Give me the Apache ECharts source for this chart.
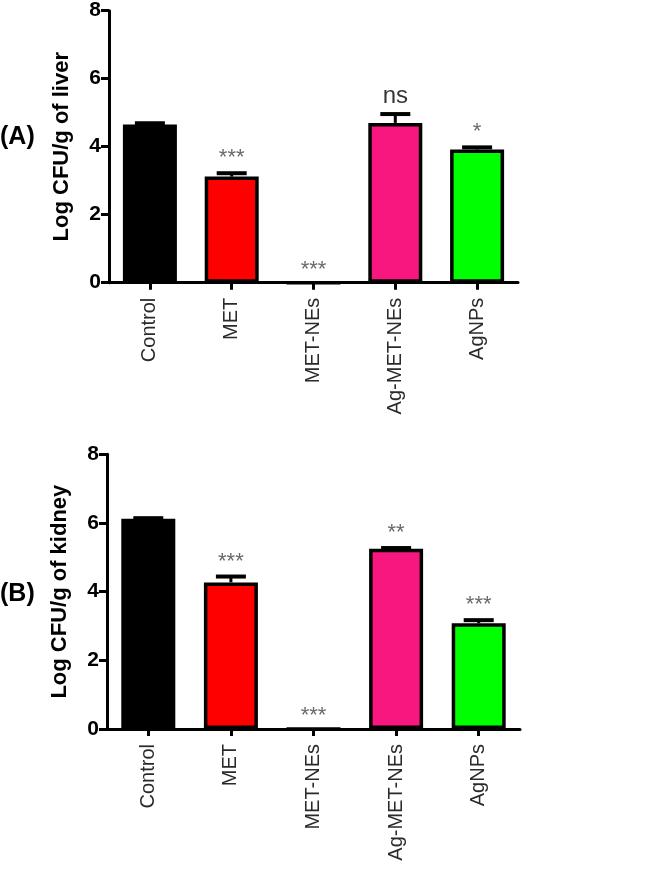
<!DOCTYPE html>
<html>
<head>
<meta charset="utf-8">
<script src="https://cdn.jsdelivr.net/npm/echarts@6/dist/echarts.min.js"></script>
<style>
html,body{margin:0;padding:0;background:#fff;}
#chart{width:645px;height:870px;}
</style>
</head>
<body>
<div id="chart"></div>
<script>
// ---- data ----
const categories = ['Control', 'MET', 'MET-NEs', 'Ag-MET-NEs', 'AgNPs'];
const barColors = ['#000000', '#FF0000', '#FFFFFF', '#F7177F', '#00FF00'];
const yTicks = [0, 2, 4, 6, 8];

const liverValues = [4.65, 3.12, 0, 4.70, 3.92];
const liverErrors = [0.04, 0.10, 0, 0.26, 0.06];
const liverSig = ['', '***', '***', 'ns', '*'];

const kidneyValues = [6.12, 4.27, 0, 5.25, 3.08];
const kidneyErrors = [0.02, 0.17, 0, 0.02, 0.09];
const kidneySig = ['', '***', '***', '**', '***'];

const panelLabels = ['(A)', '(B)'];
const yTitles = ['Log CFU/g of liver', 'Log CFU/g of kidney'];

// ---- build ----
const FONT = '"Liberation Sans", Arial, sans-serif';
const chart = echarts.init(document.getElementById('chart'), null, {renderer: 'canvas'});

function xAxis(gi) {
  return {
    type: 'category', gridIndex: gi, data: categories,
    axisLine: {lineStyle: {color: '#000', width: 3}},
    axisTick: {show: true, alignWithLabel: true, length: 7, lineStyle: {color: '#000', width: 3}},
    axisLabel: {rotate: 90, fontSize: 20, color: '#2a2a2a', fontFamily: FONT, margin: 15}
  };
}
function yAxis(gi, gap) {
  return {
    type: 'value', gridIndex: gi, min: yTicks[0], max: yTicks[yTicks.length - 1], interval: 2,
    name: yTitles[gi], nameLocation: 'middle', nameRotate: 90, nameGap: gap,
    nameTextStyle: {fontSize: 22, fontWeight: 'bold', color: '#000', fontFamily: FONT},
    splitLine: {show: false},
    axisLine: {show: true, lineStyle: {color: '#000', width: 3}},
    axisTick: {show: true, length: 8, lineStyle: {color: '#000', width: 3}},
    axisLabel: {
      show: true, margin: 8,
      formatter: function (v) { return '{t|' + v + '}'; },
      rich: {t: {fontSize: 21, fontWeight: 'bold', color: '#000', fontFamily: FONT}}
    }
  };
}
function barSeries(gi, values) {
  return {
    type: 'bar', xAxisIndex: gi, yAxisIndex: gi, barWidth: 54,
    data: values.map((v, i) => ({value: v, itemStyle: {color: barColors[i]}})),
    itemStyle: {borderColor: '#000', borderWidth: 3.5},
    silent: true, animation: false
  };
}
function errSeries(gi, values, errors) {
  return {
    type: 'custom', xAxisIndex: gi, yAxisIndex: gi, animation: false, silent: true, z: 3,
    data: values.map((v, i) => [i, v, errors[i]]),
    renderItem: function (params, api) {
      const x = api.value(0), v = api.value(1), e = api.value(2);
      if (!e) return null;
      const p0 = api.coord([x, v]);
      const p1 = api.coord([x, v + e]);
      return {
        type: 'group', children: [
          {type: 'line', shape: {x1: p0[0], y1: p0[1], x2: p1[0], y2: p1[1]}, style: {stroke: '#000', lineWidth: 3}},
          {type: 'line', shape: {x1: p1[0] - 15, y1: p1[1], x2: p1[0] + 15, y2: p1[1]}, style: {stroke: '#000', lineWidth: 4}}
        ]
      };
    }
  };
}
function sigSeries(gi, values, errors, sig) {
  return {
    type: 'scatter', xAxisIndex: gi, yAxisIndex: gi, symbolSize: 0, animation: false, silent: true, z: 4,
    data: values.map((v, i) => {
      const isNs = sig[i] === 'ns';
      return {
        value: [i, v + errors[i]],
        label: {
          show: sig[i] !== '', position: 'top', formatter: sig[i],
          fontSize: isNs ? 24 : 22, color: isNs ? '#000' : '#444',
          fontFamily: FONT, distance: isNs ? 6 : (v === 0 ? 2 : 4)
        }
      };
    })
  };
}

const option = {
  backgroundColor: '#fff',
  animation: false,
  grid: [
    {left: 109, top: 10.7, width: 409, height: 272},
    {left: 107, top: 454.3, width: 413, height: 274.7}
  ],
  xAxis: [xAxis(0), xAxis(1)],
  yAxis: [yAxis(0, 36), yAxis(1, 36)],
  series: [
    barSeries(0, liverValues), errSeries(0, liverValues, liverErrors), sigSeries(0, liverValues, liverErrors, liverSig),
    barSeries(1, kidneyValues), errSeries(1, kidneyValues, kidneyErrors), sigSeries(1, kidneyValues, kidneyErrors, kidneySig)
  ],
  graphic: [
    {type: 'text', left: 0, top: 125, style: {text: panelLabels[0], fontSize: 25, fontWeight: 'bold', fill: '#000', fontFamily: FONT}},
    {type: 'text', left: 0, top: 582, style: {text: panelLabels[1], fontSize: 25, fontWeight: 'bold', fill: '#000', fontFamily: FONT}}
  ]
};
chart.setOption(option);
</script>
</body>
</html>
